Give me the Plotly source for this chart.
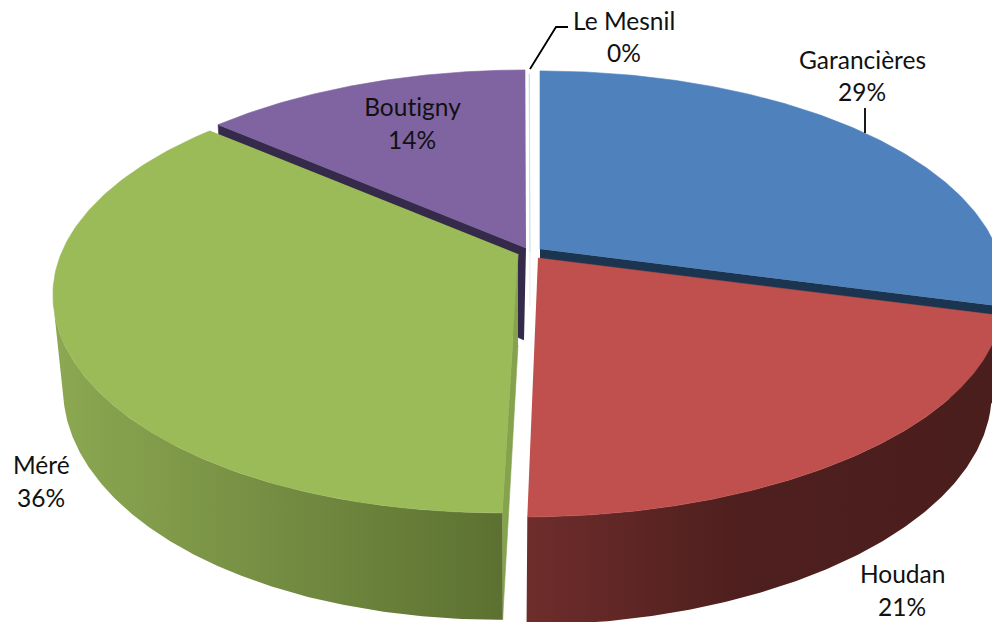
import numpy as np
import plotly.graph_objects as go

# --- data
categories = ["Garancières", "Houdan", "Méré", "Boutigny", "Le Mesnil"]
values = [29.2, 20.8, 36.4, 13.6, 0.03]

# --- styles / geometry
top_colors = ["#4f81bd", "#c0504d", "#9bbb59", "#8064a2", "#c4dbe6"]
edge_colors = ["#1b3550", "#4a1e1d", "#85a24d", "#362a4a", "#d8e6ee"]
wall_scales = [None,
               [[0, "#6e2d2b"], [0.45, "#4e1f1e"], [1, "#4a1e1d"]],
               [[0, "#8ca852"], [1, "#5c7131"]],
               None, None]
apex_top = [(540, 249), (538, 258), (518, 254), (526, 248), (530, 252)]
apex_low = [(540, 342), (537, 350), (518, 345), (524, 340), (530, 306)]
lean = [0, 0.02, 0.029, 0, 0]
SILHOUETTE_DEG = 255  # where the Méré wall leaves the top rim
P = 0.185
A_TOP, B_TOP = 457, 211
A_LOW, B_LOW = 447, 224
FONT = "Lato"
FSIZE = 24.5
label_pos = {
    "Garancières": (862, 59, 91),
    "Houdan": (902, 573, 606),
    "Méré": (41, 464, 497),
    "Boutigny": (412, 106, 139),
    "Le Mesnil": (624, 20, 52),
}
leaders = [([530, 556, 568], [69, 27, 27]), ([865, 865], [133, 108])]


def proj(theta, apex, a, b, k):
    X, Y = np.sin(theta), np.cos(theta)
    w = 1 + P * Y
    return apex[0] + a * (X + k * np.minimum(Y, 0) ** 3) / w, apex[1] - b * Y / w


def poly(fig, xs, ys, color=None, gradient=None):
    kw = dict(x=list(xs), y=list(ys), mode="lines", fill="toself", hoverinfo="skip",
              showlegend=False)
    if gradient:
        kw["fillgradient"] = dict(type="horizontal", colorscale=gradient)
        kw["line"] = dict(width=0)
    else:
        kw["fillcolor"] = color
        kw["line"] = dict(color=color, width=0.6)
    fig.add_trace(go.Scatter(**kw))


total = sum(values)
ends = np.cumsum(values) / total * 2 * np.pi
starts = np.concatenate([[0], ends[:-1]])


def draw_slice(fig, i):
    t0, t1 = starts[i], ends[i]
    k = lean[i]
    # flat cut walls
    cuts = {0: [t1], 1: [], 2: [t0], 3: [t0], 4: [t0]}[i]
    for t in cuts:
        tx, ty = proj(np.array([t]), apex_top[i], A_TOP, B_TOP, k)
        lx, ly = proj(np.array([t]), apex_low[i], A_LOW, B_LOW, k)
        poly(fig, [apex_top[i][0], tx[0], lx[0], apex_low[i][0]],
             [apex_top[i][1], ty[0], ly[0], apex_low[i][1]], edge_colors[i])
    # outer wall with the gradient across its width
    if wall_scales[i]:
        t_end = min(t1, np.radians(SILHOUETTE_DEG))
        seg = np.linspace(t0, t_end, 160)
        wx, wy = proj(seg, apex_top[i], A_TOP, B_TOP, k)
        lx, ly = proj(seg[::-1], apex_low[i], A_LOW, B_LOW, k)
        poly(fig, np.concatenate([wx, lx]), np.concatenate([wy, ly]), gradient=wall_scales[i])
    # top face
    seg = np.linspace(t0, t1, 160)
    tx, ty = proj(seg, apex_top[i], A_TOP, B_TOP, k)
    poly(fig, np.concatenate([[apex_top[i][0]], tx]), np.concatenate([[apex_top[i][1]], ty]),
         top_colors[i])


fig = go.Figure()
for idx in [3, 0, 4, 1, 2]:
    draw_slice(fig, idx)

for lx, ly in leaders:
    fig.add_trace(go.Scatter(x=lx, y=ly, mode="lines", line=dict(color="black", width=1.8),
                             hoverinfo="skip", showlegend=False))

annotations = []
for name, val in zip(categories, values):
    x, y1, y2 = label_pos[name]
    for txt, y in ((name, y1), ("%d%%" % round(val / total * 100), y2)):
        annotations.append(dict(x=x, y=y, text=txt, showarrow=False, xref="x", yref="y",
                                xanchor="center", yanchor="middle",
                                font=dict(family=FONT, size=FSIZE, color="#111111")))

fig.update_layout(
    width=992, height=622, margin=dict(l=0, r=0, t=0, b=0),
    paper_bgcolor="white", plot_bgcolor="white", showlegend=False,
    xaxis=dict(range=[0, 992], visible=False, fixedrange=True),
    yaxis=dict(range=[622, 0], visible=False, fixedrange=True),
    annotations=annotations,
)
post = ("document.body.style.margin='0';"
        "var s=document.createElement('style');"
        "s.textContent='text{font-variant-ligatures:none;"
        "font-feature-settings:\"liga\" 0,\"clig\" 0,\"calt\" 0;letter-spacing:0.01px}';"
        "document.head.appendChild(s);")
fig.write_html("out.html", config={"displayModeBar": False}, post_script=post)
